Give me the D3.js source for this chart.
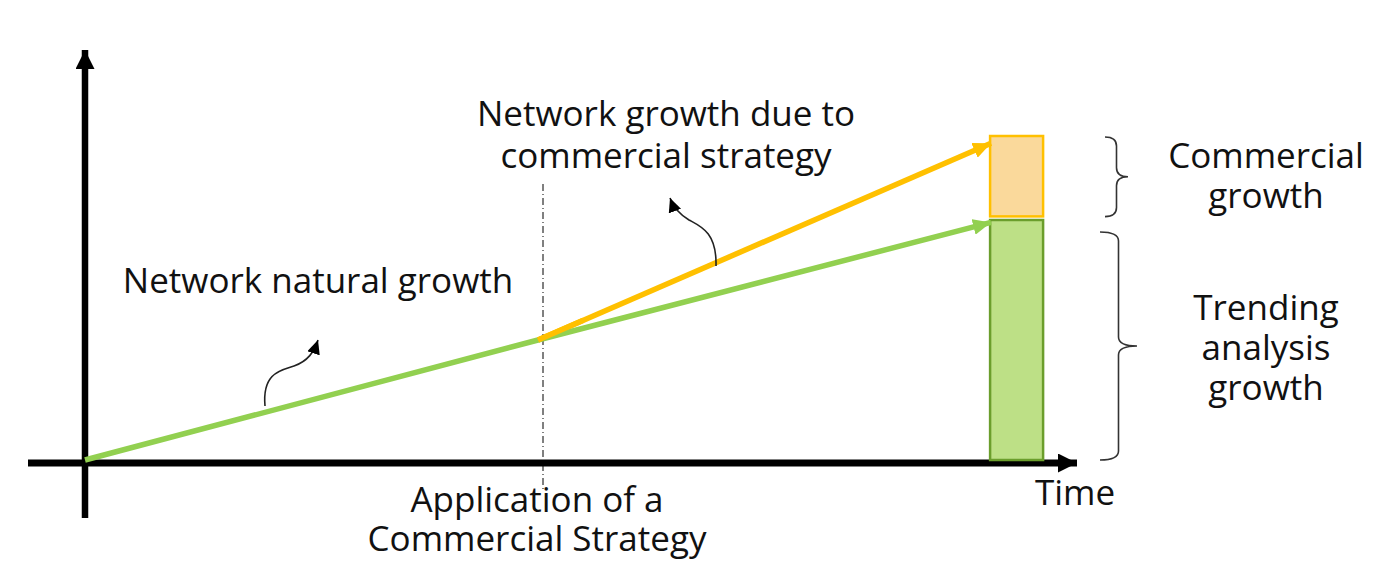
<!DOCTYPE html>
<html>
<head>
<meta charset="utf-8">
<script src="https://cdn.jsdelivr.net/npm/d3@7"></script>
<style>
  html, body { margin: 0; padding: 0; background: #fff; }
  text { font-family: "Open Sans", "Noto Sans", sans-serif; fill: #111; }
</style>
</head>
<body>
<svg id="chart" width="1398" height="576"></svg>
<script>
// time points: start, strategy applied, end
const times = [0, 1, 2];
const naturalGrowth = [0, 1, 1.98];      // green trend line
const commercialTimes = [1, 2];
const commercialGrowth = [1, 2.64];      // orange line after strategy
// stacked bar at the end
const barSegments = [
  {key: "trend", from: 0, to: 2.0},
  {key: "commercial", from: 2.03, to: 2.7}
];
const braceLabels = [
  {lines: ["Commercial", "growth"], from: 2.02, to: 2.7},
  {lines: ["Trending", "analysis", "growth"], from: 0, to: 1.9}
];

const svg = d3.select("#chart");
const x = d3.scaleLinear().domain([0, 2]).range([85, 991]);
const y = d3.scaleLinear().domain([0, 3.4]).range([460, 52]);

const GREEN = "#92d050", ORANGE = "#ffc000";

const defs = svg.append("defs");
const marker = (id, len, wid, color) => {
  defs.append("marker")
    .attr("id", id)
    .attr("markerUnits", "userSpaceOnUse")
    .attr("viewBox", `0 0 ${len} ${wid}`)
    .attr("refX", len).attr("refY", wid / 2)
    .attr("markerWidth", len).attr("markerHeight", wid)
    .attr("orient", "auto")
    .append("path")
      .attr("d", `M0,0L${len},${wid / 2}L0,${wid}Z`)
      .attr("fill", color);
};
marker("axisHead", 19, 19, "#000");
marker("greenHead", 18, 16, GREEN);
marker("orangeHead", 18, 16, ORANGE);
marker("smallHead", 14, 13, "#000");

// axes
svg.append("line")
  .attr("x1", 85).attr("y1", 518).attr("x2", 85).attr("y2", 50)
  .attr("stroke", "#000").attr("stroke-width", 6.5)
  .attr("marker-end", "url(#axisHead)");
svg.append("line")
  .attr("x1", 28).attr("y1", 463).attr("x2", 1077).attr("y2", 463)
  .attr("stroke", "#000").attr("stroke-width", 7)
  .attr("marker-end", "url(#axisHead)");

// bars
const barX0 = x(1.998), barX1 = x(2.115);
svg.selectAll("rect.seg")
  .data(barSegments)
  .enter().append("rect")
    .attr("class", "seg")
    .attr("x", barX0)
    .attr("width", barX1 - barX0)
    .attr("y", d => y(d.to))
    .attr("height", d => y(d.from) - y(d.to))
    .attr("fill", d => d.key === "trend" ? "#bde086" : "#fad99b")
    .attr("stroke", d => d.key === "trend" ? "#6b9e2c" : ORANGE)
    .attr("stroke-width", 2.5);

// strategy marker line
svg.append("line")
  .attr("x1", x(1) + 5).attr("x2", x(1) + 5)
  .attr("y1", 184).attr("y2", 490)
  .attr("stroke", "#000").attr("stroke-width", 1)
  .attr("stroke-dasharray", "7,3,1,3");

// growth lines
const line = d3.line().x(d => x(d[0])).y(d => y(d[1]));
svg.append("path")
  .attr("d", line(d3.zip(commercialTimes, commercialGrowth)))
  .attr("fill", "none").attr("stroke", ORANGE).attr("stroke-width", 5.5)
  .attr("marker-end", "url(#orangeHead)");
svg.append("path")
  .attr("d", line(d3.zip(times, naturalGrowth)))
  .attr("fill", "none").attr("stroke", GREEN).attr("stroke-width", 5.5)
  .attr("stroke-linejoin", "round")
  .attr("marker-end", "url(#greenHead)");
// redraw orange start over the green so it sits on top at the split
svg.append("path")
  .attr("d", line([[1, 1], [1.1, 1 + 0.164]]))
  .attr("fill", "none").attr("stroke", ORANGE).attr("stroke-width", 5.5);

// curly pointer arrows
svg.append("path")
  .attr("d", "M265,406 C262,372 282,370 294,366 C308,361 314,352 318,340")
  .attr("fill", "none").attr("stroke", "#222").attr("stroke-width", 1.6)
  .attr("marker-end", "url(#smallHead)");
svg.append("path")
  .attr("d", "M716,266 C717,232 700,226 689,220 C679,214 673,206 670,198")
  .attr("fill", "none").attr("stroke", "#222").attr("stroke-width", 1.6)
  .attr("marker-end", "url(#smallHead)");

// braces
const brace = (x0, y0, y1, w) => {
  const m = (y0 + y1) / 2, h = w / 2, r = 9;
  return `M${x0},${y0} Q${x0 + h},${y0} ${x0 + h},${y0 + r}` +
    ` L${x0 + h},${m - r} Q${x0 + h},${m} ${x0 + w},${m}` +
    ` Q${x0 + h},${m} ${x0 + h},${m + r}` +
    ` L${x0 + h},${y1 - r} Q${x0 + h},${y1} ${x0},${y1}`;
};
svg.append("path")
  .attr("d", brace(1105, y(2.7) + 1, y(2.02) - 1, 23))
  .attr("fill", "none").attr("stroke", "#333").attr("stroke-width", 1.6);
svg.append("path")
  .attr("d", brace(1100, y(1.9), y(0), 37))
  .attr("fill", "none").attr("stroke", "#333").attr("stroke-width", 1.6);

// labels
const FS = 35;
const addText = (lines, cx, baseline, gap) => {
  const t = svg.append("text")
    .attr("text-anchor", "middle")
    .attr("font-size", FS);
  lines.forEach((s, i) => {
    t.append("tspan").attr("x", cx).attr("y", baseline + i * (gap || 40)).text(s);
  });
};
addText(["Network growth due to", "commercial strategy"], 666, 126, 42);
addText(["Network natural growth"], 318, 293);
addText(["Application of a", "Commercial Strategy"], 537, 512, 39);
addText(["Time"], 1075, 505);
addText(braceLabels[0].lines, 1266, 168);
addText(braceLabels[1].lines, 1266, 320);
</script>
</body>
</html>
